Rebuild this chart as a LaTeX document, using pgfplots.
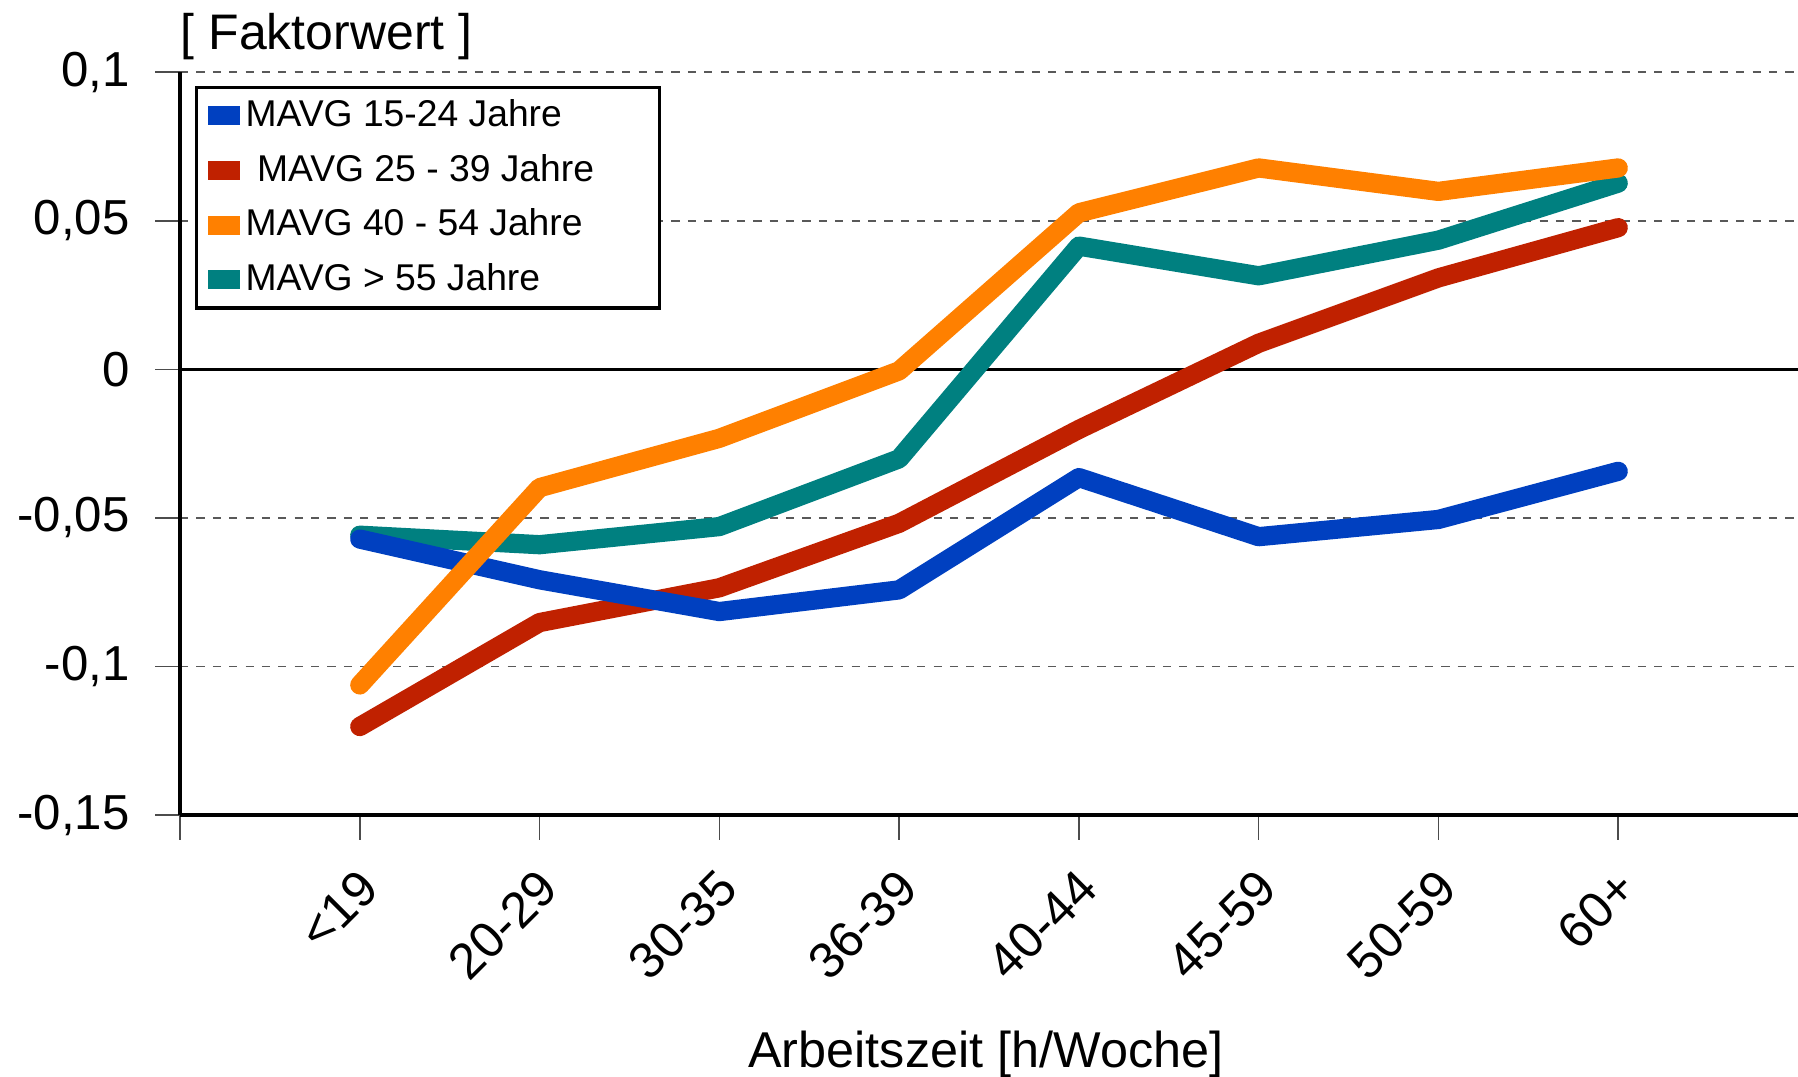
\documentclass[border=0pt]{standalone}
\usepackage{pgfplots}
\pgfplotsset{compat=1.18}
\usepackage{fontspec}
\setmainfont{Liberation Sans}
\definecolor{cblue}{RGB}{0,64,192}
\definecolor{cred}{RGB}{192,33,0}
\definecolor{corange}{RGB}{255,128,0}
\definecolor{cteal}{RGB}{0,128,128}
\begin{document}
\begin{tikzpicture}
\useasboundingbox (-43.96pt,-63.84pt) rectangle (395.1pt,199.04pt);
\begin{axis}[
  at={(0,0)}, anchor=south west,
  scale only axis, width=395.1pt, height=181.4pt,
  xmin=0, xmax=9, ymin=-0.15, ymax=0.1,
  clip=false,
  axis x line=bottom, axis y line=left,
  axis line style={-, line width=0.9pt, black},
  xtick={0,1,2,3,4,5,6,7,8},
  xticklabels={{},{<19},{20-29},{30-35},{36-39},{40-44},{45-59},{50-59},{60+}},
  ytick={-0.15,-0.1,-0.05,0,0.05,0.1},
  yticklabels={{-0,15},{-0,1},{-0,05},{0},{0,05},{0,1}},
  tick align=outside, major tick length=6pt,
  tick style={gray!60!black, line width=0.4pt},
  ticklabel style={font=\fontsize{12}{14}\selectfont},
  x tick label style={rotate=45, anchor=east, xshift=-1.8pt, yshift=-8.4pt, font=\fontsize{12.3}{14}\selectfont},
  y tick label style={xshift=-2.8pt},
  ymajorgrids,
  grid style={gray!70!black, line width=0.4pt, dash pattern=on 2pt off 2pt},
  extra y ticks={0}, extra y tick labels={},
  extra y tick style={grid=major, major grid style={solid, black, line width=0.9pt}, major tick length=0pt},
  legend image code/.code={\fill[#1, draw=none] (0pt,-2.3pt) rectangle (7.8pt,2.3pt);},
  legend cell align=left,
  legend style={at={(rel axis cs:0.0092,0.9815)}, anchor=north west,
    draw=black, line width=0.8pt, fill=white,
    font=\fontsize{9.1}{11}\selectfont,
    inner xsep=2.8pt, inner ysep=2.85pt,
    nodes={inner sep=0pt, text height=6.6pt, text depth=1.4pt},
    row sep=5.36pt, column sep=1.4pt},
]
\addlegendimage{cblue, fill=cblue}
\addlegendentry{\makebox[98.3pt][l]{MAVG 15-24 Jahre}}
\addlegendimage{cred, fill=cred}
\addlegendentry{\makebox[98.3pt][l]{\hspace{2.8pt}MAVG 25 - 39 Jahre}}
\addlegendimage{corange, fill=corange}
\addlegendentry{\makebox[98.3pt][l]{MAVG 40 - 54 Jahre}}
\addlegendimage{cteal, fill=cteal}
\addlegendentry{\makebox[98.3pt][l]{MAVG > 55 Jahre}}

\pgfplotsset{every axis plot/.append style={line width=4.7pt, line cap=round, line join=round, mark=none, forget plot}}
% teal: MAVG > 55 Jahre
\addplot[cteal] coordinates {(1,-0.0558) (2,-0.0590) (3,-0.0529) (4,-0.0301) (5,0.0415) (6,0.0315) (7,0.0435) (8,0.0627)};
% red: MAVG 25 - 39 Jahre
\addplot[cred] coordinates {(1,-0.1202) (2,-0.0852) (3,-0.0735) (4,-0.0518) (5,-0.0202) (6,0.0088) (7,0.0308) (8,0.0477)};
% blue: MAVG 15-24 Jahre
\addplot[cblue] coordinates {(1,-0.0571) (2,-0.0708) (3,-0.0815) (4,-0.0742) (5,-0.0364) (6,-0.0563) (7,-0.0505) (8,-0.0343)};
% orange: MAVG 40 - 54 Jahre
\addplot[corange] coordinates {(1,-0.1062) (2,-0.0398) (3,-0.0232) (4,-0.0005) (5,0.0527) (6,0.0678) (7,0.0599) (8,0.0678)};

\node[anchor=base west, inner sep=0pt, font=\fontsize{12.2}{14}\selectfont] at (rel axis cs:0,1) [yshift=5.6pt] {[ Faktorwert ]};
\node[anchor=base, inner sep=0pt, font=\fontsize{12.3}{14}\selectfont] at (rel axis cs:0.498,0) [yshift=-61.6pt] {Arbeitszeit [h/Woche]};
\end{axis}
\end{tikzpicture}
\end{document}
